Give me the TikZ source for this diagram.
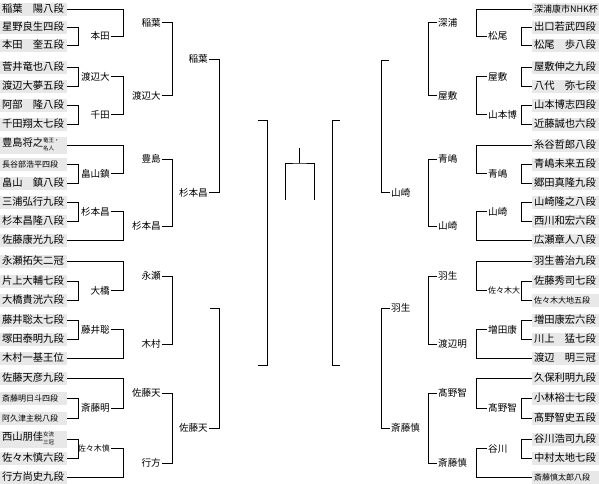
\documentclass[tikz,border=0pt]{standalone}
\usepackage{fontspec}
\setmainfont{Noto Sans CJK JP}
\usepackage{tikz}
\usetikzlibrary{calc}

\newcommand{\titlestack}[2]{{\fontsize{5.5}{8.5}\selectfont\begin{tabular}[c]{@{}l@{}}#1\\#2\end{tabular}}}

\begin{document}
\begin{tikzpicture}[
    x=1pt, y=-1pt,
    player/.style={fill=gray!18, text width=63pt, inner xsep=2pt, inner ysep=0pt, minimum height=13pt, align=left, font=\fontsize{10.3}{11}\selectfont},
    small/.style={font=\fontsize{8}{9}\selectfont},
    winner/.style={inner sep=1pt, font=\fontsize{9.6}{11}\selectfont},
    line/.style={draw=black, line width=0.8pt}
]
\useasboundingbox (0,0) rectangle (599,483);

% rounds
\coordinate (v1) at (78,0);  \coordinate (u1) at (521,0);
\coordinate (v2) at (123,0); \coordinate (u2) at (476,0);
\coordinate (v3) at (172,0); \coordinate (u3) at (428,0);
\coordinate (v4) at (219,0); \coordinate (u4) at (381,0);
\coordinate (v5) at (267,0); \coordinate (u5) at (332,0);

% left players
\node[player] (L1) at (33.5,9) {稲葉　陽八段};
\node[player] (L2) at (33.5,27) {星野良生四段};
\node[player] (L3) at (33.5,45) {本田　奎五段};
\node[player] (L4) at (33.5,67) {菅井竜也八段};
\node[player] (L5) at (33.5,86) {渡辺大夢五段};
\node[player] (L6) at (33.5,105) {阿部　隆八段};
\node[player] (L7) at (33.5,124) {千田翔太七段};
\node[player] (L8) at (33.5,145) {豊島将之\titlestack{竜王・}{名人}};
\node[player, small] (L9) at (33.5,164) {長谷部浩平四段};
\node[player] (L10) at (33.5,183) {畠山　鎮八段};
\node[player] (L11) at (33.5,202) {三浦弘行九段};
\node[player] (L12) at (33.5,221) {杉本昌隆八段};
\node[player] (L13) at (33.5,240) {佐藤康光九段};
\node[player] (L14) at (33.5,261) {永瀬拓矢二冠};
\node[player] (L15) at (33.5,281) {片上大輔七段};
\node[player] (L16) at (33.5,300) {大橋貴洸六段};
\node[player] (L17) at (33.5,320) {藤井聡太七段};
\node[player] (L18) at (33.5,339) {塚田泰明九段};
\node[player] (L19) at (33.5,358) {木村一基王位};
\node[player] (L20) at (33.5,378) {佐藤天彦九段};
\node[player, small] (L21) at (33.5,398) {斎藤明日斗四段};
\node[player, small] (L22) at (33.5,418) {阿久津主税八段};
\node[player] (L23) at (33.5,439) {西山朋佳\titlestack{女流}{三冠}};
\node[player] (L24) at (33.5,458) {佐々木慎六段};
\node[player] (L25) at (33.5,477) {行方尚史九段};

% right players
\node[player, font=\fontsize{9}{10}\selectfont] (R1) at (565.5,9) {深浦康市NHK杯};
\node[player] (R2) at (565.5,27) {出口若武四段};
\node[player] (R3) at (565.5,45) {松尾　歩八段};
\node[player] (R4) at (565.5,67) {屋敷伸之九段};
\node[player] (R5) at (565.5,86) {八代　弥七段};
\node[player] (R6) at (565.5,105) {山本博志四段};
\node[player] (R7) at (565.5,124) {近藤誠也六段};
\node[player] (R8) at (565.5,145) {糸谷哲郎八段};
\node[player] (R9) at (565.5,164) {青嶋未来五段};
\node[player] (R10) at (565.5,183) {郷田真隆九段};
\node[player] (R11) at (565.5,202) {山崎隆之八段};
\node[player] (R12) at (565.5,221) {西川和宏六段};
\node[player] (R13) at (565.5,240) {広瀬章人八段};
\node[player] (R14) at (565.5,261) {羽生善治九段};
\node[player] (R15) at (565.5,281) {佐藤秀司七段};
\node[player, small] (R16) at (565.5,300) {佐々木大地五段};
\node[player] (R17) at (565.5,320) {増田康宏六段};
\node[player] (R18) at (565.5,339) {川上　猛七段};
\node[player] (R19) at (565.5,358) {渡辺　明三冠};
\node[player] (R20) at (565.5,378) {久保利明九段};
\node[player] (R21) at (565.5,398) {小林裕士七段};
\node[player] (R22) at (565.5,418) {髙野智史五段};
\node[player] (R23) at (565.5,439) {谷川浩司九段};
\node[player] (R24) at (565.5,458) {中村太地七段};
\node[player, small] (R25) at (565.5,477) {斎藤慎太郎八段};

% left winners
\node[winner, anchor=east] (a1) at (111,36) {本田};
\node[winner, anchor=east] (a2) at (111,76.5) {渡辺大};
\node[winner, anchor=east] (a3) at (111,114.5) {千田};
\node[winner, anchor=east] (a4) at (111,173.5) {畠山鎮};
\node[winner, anchor=east] (a5) at (111,211.5) {杉本昌};
\node[winner, anchor=east] (a6) at (111,290.5) {大橋};
\node[winner, anchor=east] (a7) at (111,329.5) {藤井聡};
\node[winner, anchor=east] (a8) at (111,408) {斎藤明};
\node[winner, small, anchor=east] (a9) at (111,448.5) {佐々木慎};
\node[winner, anchor=east] (b1) at (162,22.5) {稲葉};
\node[winner, anchor=east] (b2) at (162,95.5) {渡辺大};
\node[winner, anchor=east] (b3) at (162,159) {豊島};
\node[winner, anchor=east] (b4) at (162,226) {杉本昌};
\node[winner, anchor=east] (b5) at (162,276) {永瀬};
\node[winner, anchor=east] (b6) at (162,344) {木村};
\node[winner, anchor=east] (b7) at (162,393) {佐藤天};
\node[winner, anchor=east] (b8) at (162,463) {行方};
\node[winner, anchor=east] (c1) at (209,59) {稲葉};
\node[winner, anchor=east] (c2) at (209,192.5) {杉本昌};
\coordinate (c3) at (210,308);
\node[winner, anchor=east] (c4) at (209,428) {佐藤天};
\coordinate (d1) at (258,120);
\coordinate (d2) at (258,365);

% right winners
\node[winner, anchor=west] (p1) at (487,36) {松尾};
\node[winner, anchor=west] (p2) at (487,76.5) {屋敷};
\node[winner, anchor=west] (p3) at (487,114.5) {山本博};
\node[winner, anchor=west] (p4) at (487,173.5) {青嶋};
\node[winner, anchor=west] (p5) at (487,211.5) {山崎};
\node[winner, small, anchor=west] (p6) at (487,290.5) {佐々木大};
\node[winner, anchor=west] (p7) at (487,329.5) {増田康};
\node[winner, anchor=west] (p8) at (487,408) {髙野智};
\node[winner, anchor=west] (p9) at (487,448.5) {谷川};
\node[winner, anchor=west] (q1) at (437,22.5) {深浦};
\node[winner, anchor=west] (q2) at (437,95.5) {屋敷};
\node[winner, anchor=west] (q3) at (437,159) {青嶋};
\node[winner, anchor=west] (q4) at (437,226) {山崎};
\node[winner, anchor=west] (q5) at (437,276) {羽生};
\node[winner, anchor=west] (q6) at (437,344) {渡辺明};
\node[winner, anchor=west] (q7) at (437,393) {髙野智};
\node[winner, anchor=west] (q8) at (437,463) {斎藤慎};
\coordinate (r1) at (389,60);
\node[winner, anchor=west] (r2) at (390,192.5) {山崎};
\node[winner, anchor=west] (r3) at (390,308) {羽生};
\node[winner, anchor=west] (r4) at (390,428) {斎藤慎};
\coordinate (t1) at (340,120);
\coordinate (t2) at (340,365);

% final
\coordinate (fl) at (285,200);
\coordinate (fr) at (314,200);
\coordinate (ftop) at (299.5,163);
\coordinate (fc) at (299.5,148);

% left brackets
\draw[line] (L2.east) -| (v1 |- L3) -- (L3.east);
\draw[line] (L4.east) -| (v1 |- L5) -- (L5.east);
\draw[line] (L6.east) -| (v1 |- L7) -- (L7.east);
\draw[line] (L9.east) -| (v1 |- L10) -- (L10.east);
\draw[line] (L11.east) -| (v1 |- L12) -- (L12.east);
\draw[line] (L15.east) -| (v1 |- L16) -- (L16.east);
\draw[line] (L17.east) -| (v1 |- L18) -- (L18.east);
\draw[line] (L21.east) -| (v1 |- L22) -- (L22.east);
\draw[line] (L23.east) -| (v1 |- L24) -- (L24.east);
\draw[line] (L1.east) -| (v2 |- a1) -- (a1.east);
\draw[line] (a2.east) -| (v2 |- a3) -- (a3.east);
\draw[line] (L8.east) -| (v2 |- a4) -- (a4.east);
\draw[line] (a5.east) -| (v2 |- L13) -- (L13.east);
\draw[line] (L14.east) -| (v2 |- a6) -- (a6.east);
\draw[line] (a7.east) -| (v2 |- L19) -- (L19.east);
\draw[line] (L20.east) -| (v2 |- a8) -- (a8.east);
\draw[line] (a9.east) -| (v2 |- L25) -- (L25.east);
\draw[line] (b1.east) -| (v3 |- b2) -- (b2.east);
\draw[line] (b3.east) -| (v3 |- b4) -- (b4.east);
\draw[line] (b5.east) -| (v3 |- b6) -- (b6.east);
\draw[line] (b7.east) -| (v3 |- b8) -- (b8.east);
\draw[line] (c1.east) -| (v4 |- c2) -- (c2.east);
\draw[line] (c3) -| (v4 |- c4) -- (c4.east);
\draw[line] (d1) -| (v5 |- d2) -- (d2);

% right brackets
\draw[line] (R2.west) -| (u1 |- R3) -- (R3.west);
\draw[line] (R4.west) -| (u1 |- R5) -- (R5.west);
\draw[line] (R6.west) -| (u1 |- R7) -- (R7.west);
\draw[line] (R9.west) -| (u1 |- R10) -- (R10.west);
\draw[line] (R11.west) -| (u1 |- R12) -- (R12.west);
\draw[line] (R15.west) -| (u1 |- R16) -- (R16.west);
\draw[line] (R17.west) -| (u1 |- R18) -- (R18.west);
\draw[line] (R21.west) -| (u1 |- R22) -- (R22.west);
\draw[line] (R23.west) -| (u1 |- R24) -- (R24.west);
\draw[line] (R1.west) -| (u2 |- p1) -- (p1.west);
\draw[line] (p2.west) -| (u2 |- p3) -- (p3.west);
\draw[line] (R8.west) -| (u2 |- p4) -- (p4.west);
\draw[line] (p5.west) -| (u2 |- R13) -- (R13.west);
\draw[line] (R14.west) -| (u2 |- p6) -- (p6.west);
\draw[line] (p7.west) -| (u2 |- R19) -- (R19.west);
\draw[line] (R20.west) -| (u2 |- p8) -- (p8.west);
\draw[line] (p9.west) -| (u2 |- R25) -- (R25.west);
\draw[line] (q1.west) -| (u3 |- q2) -- (q2.west);
\draw[line] (q3.west) -| (u3 |- q4) -- (q4.west);
\draw[line] (q5.west) -| (u3 |- q6) -- (q6.west);
\draw[line] (q7.west) -| (u3 |- q8) -- (q8.west);
\draw[line] (r1) -| (u4 |- r2) -- (r2.west);
\draw[line] (r3.west) -| (u4 |- r4) -- (r4.west);
\draw[line] (t1) -| (u5 |- t2) -- (t2);

% final
\draw[line] (fl) |- (ftop) -| (fr);
\draw[line] (fc) -- (ftop);
\end{tikzpicture}
\end{document}
